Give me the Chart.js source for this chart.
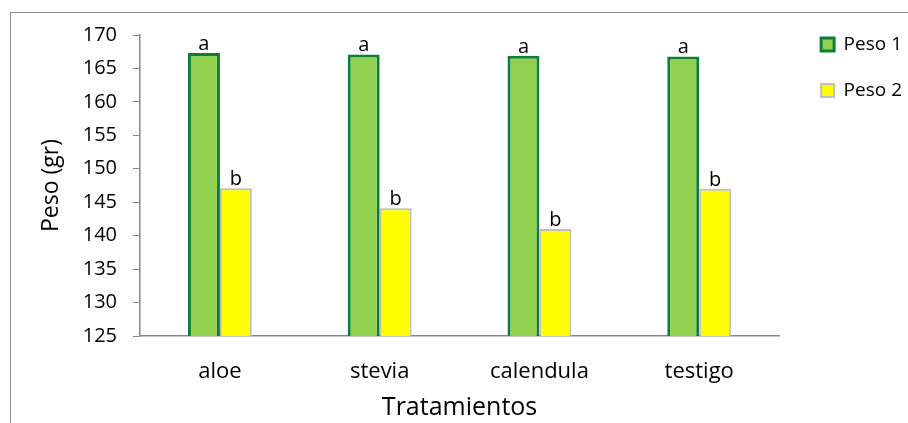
<!DOCTYPE html>
<html lang="es">
<head>
<meta charset="utf-8">
<title>Peso por tratamiento</title>
<script src="https://cdn.jsdelivr.net/npm/chart.js@4/dist/chart.umd.min.js"></script>
<style>
  html, body { margin: 0; padding: 0; background: #ffffff; overflow: hidden; }
  #wrap { position: relative; width: 908px; height: 423px; }
  #marco {
    position: absolute; left: 10px; top: 12px; width: 2000px; height: 2000px;
    border: 1px solid #8c8c8c; box-sizing: border-box;
  }
  #grafico { position: absolute; left: 0; top: 0; }
</style>
</head>
<body>
<div id="wrap">
  <div id="marco"></div>
  <canvas id="grafico" width="908" height="423"></canvas>
</div>
<script>
// Tratamientos y pesos medios (gr)
const categorias = ['aloe', 'stevia', 'calendula', 'testigo'];
const peso1 = [167.3, 167.1, 166.9, 166.8];
const peso2 = [147.1, 144.1, 141.0, 147.0];
// Letras de significancia sobre cada barra
const letras1 = ['a', 'a', 'a', 'a'];
const letras2 = ['b', 'b', 'b', 'b'];
const ticksY = { min: 125, max: 170, paso: 5 };

const FUENTE = '"Open Sans", "Noto Sans", sans-serif';
const GRIS_EJE = '#868686';

// Escribe la letra de cada serie encima de su barra
const letrasPlugin = {
  id: 'letras',
  afterDatasetsDraw(chart) {
    const ctx = chart.ctx;
    const grupos = [letras1, letras2];
    ctx.save();
    ctx.font = '20px ' + FUENTE;
    ctx.fillStyle = '#000000';
    ctx.textAlign = 'center';
    ctx.textBaseline = 'alphabetic';
    chart.data.datasets.forEach((ds, i) => {
      const meta = chart.getDatasetMeta(i);
      meta.data.forEach((bar, j) => {
        ctx.fillText(grupos[i][j], bar.x, bar.y - 3);
      });
    });
    ctx.restore();
  }
};

new Chart(document.getElementById('grafico'), {
  type: 'bar',
  data: {
    labels: categorias,
    datasets: [
      {
        label: 'Peso 1',
        data: peso1,
        backgroundColor: '#92D050',
        borderColor: '#0E7C3A',
        borderWidth: 3,
        borderSkipped: false,
        categoryPercentage: 0.4,
        barPercentage: 1.0
      },
      {
        label: 'Peso 2',
        data: peso2,
        backgroundColor: '#FFFF00',
        borderColor: '#BFBFBF',
        borderWidth: 2,
        borderSkipped: false,
        categoryPercentage: 0.4,
        barPercentage: 1.0
      }
    ]
  },
  options: {
    responsive: false,
    animation: false,
    devicePixelRatio: 1,
    layout: { padding: { top: 8, left: 10, right: -4, bottom: 0 } },
    plugins: {
      tooltip: { enabled: false },
      title: {
        display: true,
        text: '',
        fullSize: false,
        padding: 0,
        font: { size: 27, lineHeight: 1 }
      },
      legend: {
        position: 'right',
        align: 'start',
        labels: {
          boxWidth: 13,
          boxHeight: 13,
          padding: 27,
          color: '#000000',
          font: { family: FUENTE, size: 19 }
        }
      }
    },
    scales: {
      x: {
        grid: { display: false, drawTicks: false },
        border: { display: true, color: GRIS_EJE, width: 1.5 },
        ticks: {
          color: '#000000',
          padding: 23,
          font: { family: FUENTE, size: 22 }
        },
        title: {
          display: true,
          text: 'Tratamientos',
          color: '#000000',
          padding: { top: 10, bottom: 0 },
          font: { family: FUENTE, size: 25, lineHeight: 1.2 }
        },
        afterFit(scale) { scale.height = 87; }
      },
      y: {
        min: ticksY.min,
        max: ticksY.max,
        grid: {
          display: true,
          drawOnChartArea: false,
          drawTicks: true,
          tickLength: 7,
          color: GRIS_EJE,
          tickColor: GRIS_EJE
        },
        border: { display: true, color: GRIS_EJE, width: 1.5 },
        ticks: {
          stepSize: ticksY.paso,
          color: '#000000',
          padding: 16,
          font: { family: FUENTE, size: 20 }
        },
        title: {
          display: true,
          text: 'Peso (gr)',
          color: '#000000',
          padding: { top: 28, bottom: 10 },
          font: { family: FUENTE, size: 23, lineHeight: 1.2 }
        },
        afterFit(scale) { scale.width = 130; }
      },
      margen: {
        position: 'right',
        display: true,
        grid: { display: false, drawTicks: false },
        border: { display: false },
        ticks: { display: false },
        afterFit(scale) { scale.width = 15; }
      }
    }
  },
  plugins: [letrasPlugin]
});
</script>
</body>
</html>
